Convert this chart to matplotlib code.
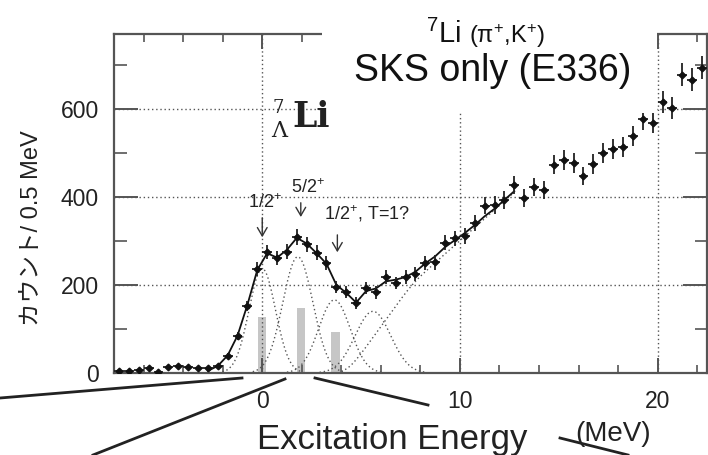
import matplotlib
matplotlib.use("Agg")
import matplotlib.pyplot as plt
import numpy as np
from matplotlib import font_manager
from matplotlib.lines import Line2D
from matplotlib.patches import Rectangle
from matplotlib.ticker import MultipleLocator

# 0.5 MeV bins, counts
energy = np.arange(-7.25, 22.5, 0.5)
counts = [4, 5, 7, 11, 2, 14, 16, 14, 11, 11, 16,
          39, 84, 152, 236, 274, 262, 275, 309, 292, 273,
          250, 196, 184, 159, 193, 183, 218, 205, 218, 225,
          250, 251, 296, 306, 312, 340, 380, 382, 393, 427,
          398, 423, 416, 473, 484, 477, 448, 475, 500, 509,
          514, 539, 577, 568, 616, 602, 677, 666, 693]
errors = [2, 2, 3, 3, 2, 4, 4, 4, 3, 3, 4,
          6, 9, 12, 15, 16, 16, 17, 18, 17, 17,
          16, 14, 14, 13, 14, 14, 15, 14, 15, 15,
          16, 16, 17, 17, 18, 18, 19, 20, 20, 21,
          20, 21, 20, 22, 22, 22, 21, 22, 22, 23,
          23, 23, 24, 24, 25, 25, 26, 26, 26]

# total fit curve (solid), sampled at the bin centres -2.75 .. 12.75
fit_energy = energy[(energy > -3) & (energy < 13)]
fit_counts = [5, 16, 40, 85, 155, 234, 272, 262, 280, 307,
              294, 272, 248, 200, 182, 160, 186, 192, 208, 212,
              218, 230, 249, 265, 286, 302, 318, 336, 356, 373,
              393, 413]

# gaussian peak components (dotted)
peak_centers = [0.0, 1.8, 3.65, 5.6]
peak_heights = [237, 264, 166, 140]
peak_sigmas = [0.67, 0.76, 0.80, 0.90]

# continuum component: ramp from onset, slope change at knee
bg_onset, bg_knee = 4.3, 7.6
bg_slope1, bg_slope2 = 62, 40

# level strengths (grey bars)
level_energies = [0.0, 1.95, 3.7]
level_heights = [127, 148, 93]

level_labels = ["1/2$^{+}$", "5/2$^{+}$", "1/2$^{+}$, T=1?"]

W, H = 708, 455
names = {f.name for f in font_manager.fontManager.ttflist}
narrow = next((n for n in ["Liberation Sans Narrow", "DejaVu Sans Condensed"] if n in names),
              "Liberation Sans")
plt.rcParams["font.family"] = ["Liberation Sans", "Noto Sans CJK JP", "DejaVu Sans"]
plt.rcParams["mathtext.fontset"] = "custom"
plt.rcParams["mathtext.rm"] = "Liberation Sans"
plt.rcParams["mathtext.it"] = "Liberation Sans:italic"
plt.rcParams["mathtext.bf"] = "Liberation Sans:bold"


def fx(x):
    return x / W


def fy(y):
    return 1 - y / H


fig = plt.figure(figsize=(W / 100, H / 100), dpi=100)
ax = fig.add_axes([fx(114), fy(373), (707 - 114) / W, (373 - 34) / H])

ax.bar(level_energies, level_heights, width=0.42, color="#c6c6c6", zorder=1)

for c, h, s in zip(peak_centers, peak_heights, peak_sigmas):
    e = np.linspace(c - 3 * s, c + 3 * s, 200)
    ax.plot(e, h * np.exp(-(e - c) ** 2 / (2 * s * s)), color="#555555",
            lw=1.0, ls=(0, (1, 2)), zorder=2)

e = np.linspace(4.0, 12.75, 300)
w = 0.25
bg = (bg_slope1 * w * np.log1p(np.exp((e - bg_onset) / w))
      - (bg_slope1 - bg_slope2) * w * np.log1p(np.exp((e - bg_knee) / w)))
ax.plot(e, bg, color="#555555", lw=1.0, ls=(0, (1, 2)), zorder=2)

ax.plot(fit_energy, fit_counts, color="#111111", lw=1.3, zorder=3)

ax.errorbar(energy, counts, xerr=0.25, yerr=errors, fmt="D", ms=3.4,
            color="#111111", ecolor="#222222", elinewidth=1.3, capsize=0, zorder=4)

ax.set_xlim(-7.5, 22.5)
ax.set_ylim(0, 770)
ax.xaxis.set_major_locator(MultipleLocator(10))
ax.xaxis.set_minor_locator(MultipleLocator(2))
ax.yaxis.set_major_locator(MultipleLocator(200))
ax.yaxis.set_minor_locator(MultipleLocator(100))
ax.grid(which="major", ls=(0, (1, 2)), color="#555555", lw=1.0, zorder=1.5)
ax.tick_params(which="both", direction="in", top=True, right=True,
               color="#555555", labelsize=16.5, labelcolor="#222222")
ax.tick_params(axis="y", which="major", length=17, width=1.4, pad=11)
ax.tick_params(axis="y", which="minor", length=9, width=1.2)
ax.tick_params(axis="x", which="major", length=11, width=1.4, pad=12)
ax.tick_params(axis="x", which="minor", length=6, width=1.2)
for sp in ax.spines.values():
    sp.set_color("#555555")
    sp.set_linewidth(1.6)

# arrows marking the levels
arrow_kw = dict(arrowstyle="->,head_length=0.6,head_width=0.35", color="#333333", lw=1.0)
ax.annotate("", xy=(0.0, 302), xytext=(0.0, 359), arrowprops=arrow_kw)
ax.annotate("", xy=(1.95, 348), xytext=(1.95, 393), arrowprops=arrow_kw)
ax.annotate("", xy=(3.8, 268), xytext=(3.8, 320), arrowprops=arrow_kw)
ax.text(0.15, 375, level_labels[0], ha="center", va="baseline", fontsize=13,
        family=narrow, color="#222222")
ax.text(2.3, 409, level_labels[1], ha="center", va="baseline", fontsize=13,
        family=narrow, color="#222222")
ax.text(3.1, 348, level_labels[2], ha="left", va="baseline", fontsize=13,
        family=narrow, color="#222222")

# white box behind the reaction title
fig.add_artist(Rectangle((fx(322), fy(113)), (657 - 322) / W, 113 / H,
                         transform=fig.transFigure, facecolor="white",
                         edgecolor="none", zorder=5))

# hypernucleus label
fig.text(fx(278), fy(113), "7", ha="center", va="baseline",
         family="DejaVu Serif", fontsize=13, color="#222222", zorder=7)
fig.text(fx(279), fy(137), "Λ", ha="center", va="baseline",
         family="DejaVu Serif", fontsize=16, color="#222222", zorder=7)
fig.text(fx(292), fy(127), "Li", ha="left", va="baseline",
         family="DejaVu Serif", fontsize=25, fontweight="bold", color="#222222", zorder=7)

fig.text(fx(461), fy(43), "$^{7}$Li", ha="right", va="baseline", fontsize=21,
         color="#111111", zorder=6)
fig.text(fx(469), fy(43), "(π$^{+}$,K$^{+}$)", ha="left", va="baseline", fontsize=17,
         color="#111111", zorder=6)
fig.text(fx(493), fy(81), "SKS only (E336)", ha="center", va="baseline", fontsize=27,
         color="#111111", zorder=6)

fig.text(fx(32), fy(228), "カウント/ 0.5 MeV", rotation=90, ha="center", va="center",
         fontsize=17, color="#222222")
fig.text(fx(392), fy(449), "Excitation Energy", ha="center", va="baseline",
         fontsize=25, color="#222222")
fig.text(fx(613), fy(441), "(MeV)", ha="center", va="baseline", fontsize=20,
         color="#222222")

# leftover pointer lines from the slide
for (x0, y0), (x1, y1) in [((0, 398), (242, 378)), ((93, 455), (285, 379)),
                           ((315, 378), (428, 405)), ((560, 438), (628, 455))]:
    fig.add_artist(Line2D([fx(x0), fx(x1)], [fy(y0), fy(y1)], color="#222222",
                          lw=2.0, transform=fig.transFigure, zorder=6))

fig.savefig("out.png", dpi=100)
